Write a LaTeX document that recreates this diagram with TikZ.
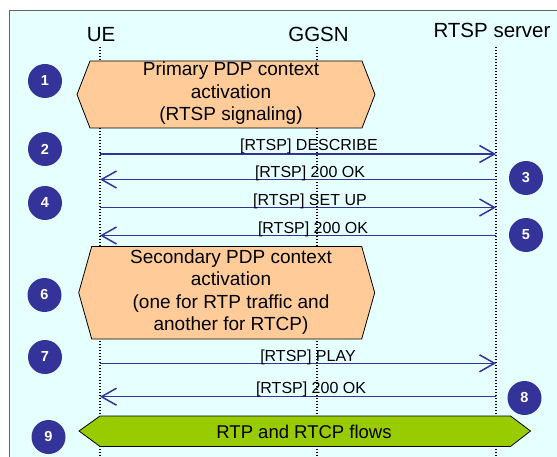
\documentclass[tikz,border=0pt]{standalone}
\usepackage{fontspec}
\setmainfont{Liberation Sans}
\usetikzlibrary{arrows.meta}
\definecolor{bgcyan}{RGB}{230,255,255}
\definecolor{framegray}{RGB}{100,100,100}
\definecolor{stepblue}{RGB}{51,51,153}
\definecolor{phaseorange}{RGB}{255,204,153}
\definecolor{flowgreen}{RGB}{153,204,0}
\begin{document}
\begin{tikzpicture}[x=1pt,y=-1pt,
  actor/.style={font=\fontsize{20.5}{24}\selectfont, inner sep=0pt, anchor=base},
  lifeline/.style={black, line width=1.1pt, dash pattern=on 1.1pt off 1.9pt},
  msg/.style={stepblue, line width=1.5pt,
    -{Straight Barb[length=15pt, width=17pt, line width=1.5pt]}},
  msglabel/.style={font=\fontsize{16}{18}\selectfont, inner sep=0pt, anchor=base},
  stepnum/.style={circle, fill=stepblue, text=white, inner sep=0pt,
    minimum size=34pt, font=\bfseries\fontsize{14.5}{15}\selectfont},
  phase/.style={draw=black, line width=0.8pt, fill=phaseorange, line join=miter},
  flow/.style={draw=black, line width=0.8pt, fill=flowgreen, line join=miter},
  phasetext/.style={font=\fontsize{19}{22.5}\selectfont, align=center, inner sep=0pt}
]
\useasboundingbox (0,0) rectangle (557,457);

% panel background with its frame
\fill[bgcyan] (9.5,10.5) rectangle (580,480);
\draw[framegray, line width=1.7pt] (9.5,480) -- (9.5,10.5);
\draw[framegray, line width=1.3pt] (9,10.5) -- (580,10.5);

% actors
\node[actor] (ue)   at (101,41.5) {UE};
\node[actor] (ggsn) at (318.5,41.5) {GGSN};
\node[actor] (srv)  at (492,37.5) {RTSP server};

% lifelines
\coordinate (ueTop)   at (100,47);  \coordinate (ueBot)   at (100,460);
\coordinate (ggsnTop) at (317,47);  \coordinate (ggsnBot) at (317,460);
\coordinate (srvTop)  at (496,47);  \coordinate (srvBot)  at (496,460);
\draw[lifeline] (ueTop) -- (ueBot);
\draw[lifeline] (ggsnTop) -- (ggsnBot);
\draw[lifeline] (srvTop) -- (srvBot);

% step 1: primary PDP context activation
\draw[phase] (77,94.5) -- (90,61) -- (362,61) -- (375,94.5) -- (362,128) -- (90,128) -- cycle;
\node[phasetext] (pdp1) at (231,93.5) {Primary PDP context\\activation\\(RTSP signaling)};

% steps 2-5: RTSP DESCRIBE and SETUP exchanges
\coordinate (ue2) at (100,154);   \coordinate (srv2) at (496,154);
\coordinate (ue3) at (100,179.5); \coordinate (srv3) at (496,179.5);
\coordinate (ue4) at (100,207.5); \coordinate (srv4) at (496,207.5);
\coordinate (ue5) at (100,235.5); \coordinate (srv5) at (496,235.5);
\draw[msg] (ue2) -- (srv2);
\draw[msg] (srv3) -- (ue3);
\draw[msg] (ue4) -- (srv4);
\draw[msg] (srv5) -- (ue5);
\node[msglabel] (l2) at (309,151) {[RTSP] DESCRIBE};
\node[msglabel] (l3) at (310,178) {[RTSP] 200 OK};
\node[msglabel] (l4) at (310,206) {[RTSP] SET UP};
\node[msglabel] (l5) at (313,233.5) {[RTSP] 200 OK};

% step 6: secondary PDP context activation
\draw[phase] (78.7,292.7) -- (91.7,246.5) -- (361.7,246.5) -- (374.7,292.7) -- (361.7,339) -- (91.7,339) -- cycle;
\node[phasetext] (pdp2) at (231,292) {Secondary PDP context\\activation\\(one for RTP traffic and\\another for RTCP)};

% steps 7-8: RTSP PLAY exchange
\coordinate (ue7) at (100,363.3); \coordinate (srv7) at (496,363.3);
\coordinate (ue8) at (100,396.7); \coordinate (srv8) at (496,396.7);
\draw[msg] (ue7) -- (srv7);
\draw[msg] (srv8) -- (ue8);
\node[msglabel] (l7) at (308,361.5) {[RTSP] PLAY};
\node[msglabel] (l8) at (311,393.5) {[RTSP] 200 OK};

% step 9: media flows
\draw[flow] (79,431) -- (100,416) -- (510.5,416) -- (530.5,431) -- (510.5,446.5) -- (100,446.5) -- cycle;
\node[font=\fontsize{18.5}{20}\selectfont, inner sep=0pt, anchor=base] (media) at (304,438.5) {RTP and RTCP flows};

% step numbers
\node[stepnum] (n1) at (45,81) {1};
\node[stepnum] (n2) at (45,149) {2};
\node[stepnum] (n3) at (526,178) {3};
\node[stepnum] (n4) at (45,203) {4};
\node[stepnum] (n5) at (526,235) {5};
\node[stepnum] (n6) at (44.5,295) {6};
\node[stepnum] (n7) at (45,357) {7};
\node[stepnum] (n8) at (524.5,398) {8};
\node[stepnum] (n9) at (48.5,437) {9};
\end{tikzpicture}
\end{document}
